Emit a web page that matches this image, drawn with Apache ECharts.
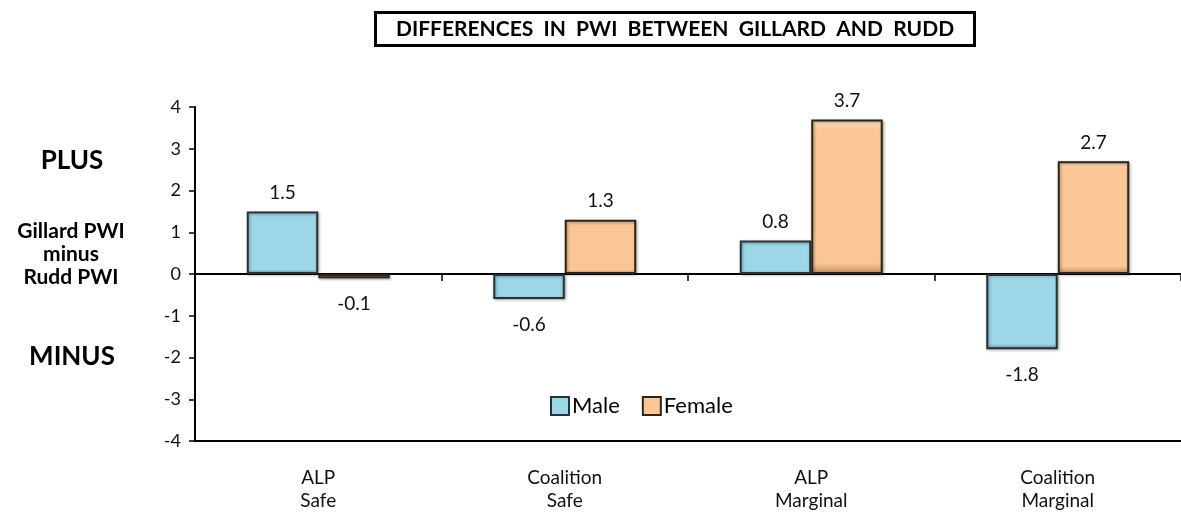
<!DOCTYPE html>
<html>
<head>
<meta charset="utf-8">
<script src="https://cdn.jsdelivr.net/npm/echarts@6/dist/echarts.min.js"></script>
<style>
  html, body { margin: 0; padding: 0; background: #fff; }
  #chart { width: 1181px; height: 513px; }
</style>
</head>
<body>
<div id="chart"></div>
<script>
// chart data
var categories = ["ALP\nSafe", "Coalition\nSafe", "ALP\nMarginal", "Coalition\nMarginal"];
var maleValues = [1.5, -0.6, 0.8, -1.8];
var femaleValues = [-0.1, 1.3, 3.7, 2.7];
var yTicks = [-4, -3, -2, -1, 0, 1, 2, 3, 4];

var FONT = "Lato, 'Open Sans', sans-serif";

// put labels above positive bars and below negative ones
function withLabels(values) {
	return values.map(function (v) {
		return {
			value: v,
			label: { position: v < 0 ? "bottom" : "top", distance: v < 0 ? 16 : 9 },
		};
	});
}

function bevel(light, mid, dark) {
	return new echarts.graphic.LinearGradient(0, 0, 0, 1, [
		{ offset: 0, color: light },
		{ offset: 0.07, color: mid },
		{ offset: 0.93, color: mid },
		{ offset: 1, color: dark },
	]);
}

var chart = echarts.init(document.getElementById("chart"));

var option = {
	animation: false,
	title: {
		text: "DIFFERENCES  IN  PWI  BETWEEN  GILLARD  AND  RUDD",
		left: 375,
		top: 12,
		borderColor: "#000",
		borderWidth: 3,
		padding: [7, 21, 6, 21],
		textStyle: {
			fontFamily: FONT,
			fontSize: 21,
			fontWeight: "bold",
			color: "#000",
		},
	},
	legend: {
		left: 545,
		top: 390,
		itemWidth: 18,
		itemHeight: 18,
		itemGap: 22,
		icon: "rect",
		textStyle: { fontFamily: FONT, fontSize: 22, color: "#000", padding: [0, 0, 0, -2] },
		data: ["Male", "Female"],
	},
	grid: {
		left: 195,
		right: 0,
		top: 107,
		bottom: 72,
	},
	xAxis: [
		{
			// zero line with category ticks
			type: "category",
			data: categories,
			axisLine: { onZero: true, lineStyle: { color: "#000", width: 2 } },
			axisTick: { show: true, length: 7, lineStyle: { color: "#000", width: 1.5 } },
			axisLabel: { show: false },
		},
		{
			// bottom labels
			type: "category",
			data: categories,
			position: "bottom",
			axisLine: { onZero: false, show: true, lineStyle: { color: "#000", width: 2 } },
			axisTick: { show: false },
			axisLabel: {
				fontFamily: FONT,
				fontSize: 19,
				color: "#111",
				lineHeight: 23,
				margin: 25,
			},
		},
	],
	yAxis: {
		type: "value",
		min: yTicks[0],
		max: yTicks[yTicks.length - 1],
		interval: 1,
		splitLine: { show: false },
		axisLine: { show: true, lineStyle: { color: "#000", width: 2 } },
		axisTick: { show: true, length: 6, lineStyle: { color: "#000", width: 1.5 } },
		axisLabel: { fontFamily: FONT, fontSize: 18, color: "#111", margin: 14 },
	},
	graphic: [
		{
			type: "text",
			x: 72,
			y: 161,
			style: { text: "PLUS", font: "bold 26px " + FONT, fill: "#000", align: "center", verticalAlign: "middle" },
		},
		{
			type: "text",
			x: 71,
			y: 254,
			style: {
				text: "Gillard PWI\nminus\nRudd PWI",
				font: "bold 21px " + FONT,
				fill: "#000",
				align: "center",
				verticalAlign: "middle",
				lineHeight: 23,
			},
		},
		{
			type: "text",
			x: 72,
			y: 357,
			style: { text: "MINUS", font: "bold 26px " + FONT, fill: "#000", align: "center", verticalAlign: "middle" },
		},
	],
	series: [
		{
			name: "Male",
			type: "bar",
			data: withLabels(maleValues),
			barGap: "0%",
			barCategoryGap: "42%",
			itemStyle: {
				color: bevel("#cdeef7", "#9dd6e7", "#6a9ba8"),
				borderColor: "#263238",
				borderWidth: 2,
				shadowColor: "rgba(0,0,0,0.35)",
				shadowBlur: 3,
				shadowOffsetX: 1,
				shadowOffsetY: 1,
			},
			label: { show: true, fontFamily: FONT, fontSize: 19, color: "#111" },
		},
		{
			name: "Female",
			type: "bar",
			data: withLabels(femaleValues),
			itemStyle: {
				color: bevel("#fde3c6", "#fac695", "#c0905f"),
				borderColor: "#2e2418",
				borderWidth: 2,
				shadowColor: "rgba(0,0,0,0.35)",
				shadowBlur: 3,
				shadowOffsetX: 1,
				shadowOffsetY: 1,
			},
			label: { show: true, fontFamily: FONT, fontSize: 19, color: "#111" },
		},
	],
};

chart.setOption(option);
</script>
</body>
</html>
